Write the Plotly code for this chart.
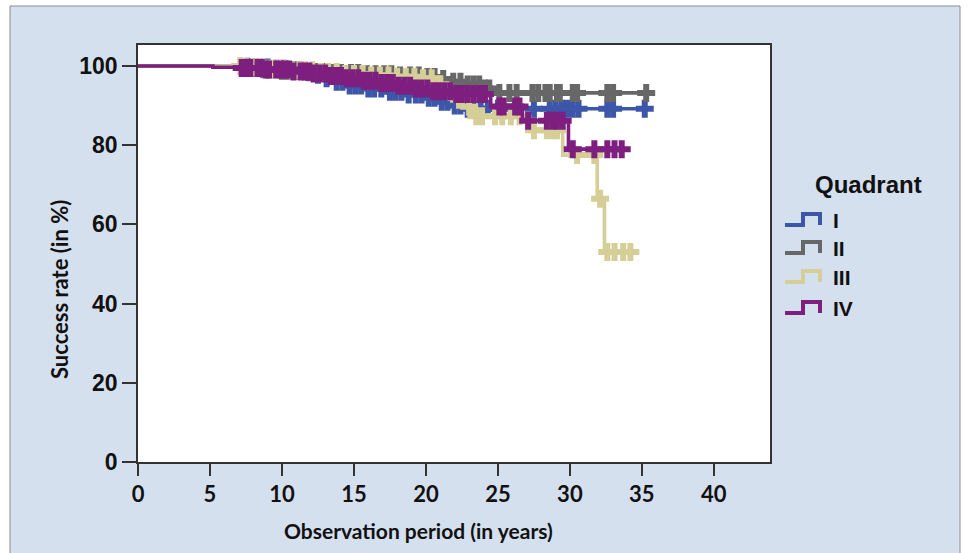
import numpy as np
import plotly.graph_objects as go

# ---------------- data ----------------
quadrants = ["I", "II", "III", "IV"]
colors = ["#3c56a9", "#676767", "#d5ce97", "#7e1f80"]

# Kaplan-Meier step curves: time of each step (years) and survival after it (%)
q1_times = [0, 5.5, 7.8, 9.2, 10.4, 11.3, 12.2, 12.9, 13.6, 14.5, 15.8, 17.2, 18.6, 19.8, 20.9, 21.8, 22.6]
q1_surv = [100, 99.8, 99.6, 99.3, 98.9, 98.4, 97.8, 96.9, 96.0, 95.1, 94.3, 93.5, 92.8, 92.0, 91.0, 90.0, 89.2]
q1_end = 35.2
q1_censor = [7.6, 8.1, 8.5, 9.0, 9.6, 10.1, 10.8, 11.2, 11.9, 12.5, 13.1, 13.8, 14.2, 14.7, 15.1, 15.5,
             16.0, 16.4, 16.9, 17.5, 17.9, 18.3, 18.8, 19.3, 19.7, 20.2, 20.6, 21.1, 21.5, 22.0, 22.4,
             22.9, 23.3, 23.8, 24.3, 25.0, 26.2, 27.5, 28.6, 29.0, 29.4, 29.8, 30.2, 30.6, 32.6, 33.0, 35.2]

q2_times = [0, 6.8, 8.3, 9.8, 11.5, 13.5, 15.5, 17.8, 19.6, 20.8, 21.7, 22.6, 24.0, 24.7]
q2_surv = [100, 99.6, 99.2, 98.8, 98.5, 98.2, 97.9, 97.6, 97.2, 96.7, 96.0, 95.3, 94.3, 93.2]
q2_end = 35.3
q2_censor = [7.3, 7.8, 8.2, 8.7, 9.1, 9.5, 10.0, 10.4, 10.9, 11.3, 11.8, 12.4, 13.0, 13.6, 14.1, 14.8,
             15.3, 15.9, 16.5, 17.1, 17.6, 18.2, 18.9, 19.5, 20.1, 20.6, 21.2, 21.9, 22.4, 22.9, 23.3,
             23.7, 24.1, 24.4, 25.1, 25.8, 26.3, 27.4, 27.8, 28.3, 28.6, 29.1, 29.3, 30.2, 30.5, 32.6,
             33.0, 35.3]

q3_times = [0, 7.2, 8.8, 10.5, 12.4, 14.3, 16.0, 17.8, 19.7, 20.8, 21.4, 22.0, 22.6, 23.3, 27.2, 29.5, 31.9, 32.4]
q3_surv = [100, 99.7, 99.3, 98.9, 98.5, 98.0, 97.6, 97.3, 96.9, 95.4, 93.5, 91.5, 89.7, 87.3, 83.8, 77.5, 66.5, 53.0]
q3_end = 34.2
q3_censor = [7.1, 7.5, 8.0, 8.4, 8.9, 9.3, 9.8, 10.3, 10.7, 11.2, 11.6, 12.1, 12.7, 13.2, 13.8, 14.4,
             15.0, 15.6, 16.2, 16.8, 17.4, 18.0, 18.6, 19.2, 19.8, 20.4, 21.0, 21.7, 22.3, 23.0, 23.5,
             23.9, 24.8, 25.3, 25.9, 26.5, 27.5, 28.4, 28.8, 29.1, 30.5, 31.7, 32.1, 32.6, 33.1, 33.7, 34.2]

q4_times = [0, 5.2, 7.0, 8.8, 10.6, 12.0, 13.3, 14.5, 15.7, 16.9, 18.0, 19.2, 20.5, 22.0, 24.5, 26.7, 29.9]
q4_surv = [100, 99.7, 99.5, 99.1, 98.6, 98.1, 97.5, 96.9, 96.3, 95.7, 95.0, 94.3, 93.6, 92.9, 89.8, 86.2, 79.0]
q4_end = 33.6
q4_censor = [7.2, 7.5, 7.8, 8.3, 8.6, 8.9, 9.1, 9.6, 9.9, 10.2, 10.5, 10.8, 11.3, 11.6, 11.9, 12.2,
             12.6, 13.0, 13.4, 13.7, 14.1, 14.5, 14.9, 15.3, 15.7, 16.1, 16.5, 16.9, 17.3, 17.7, 18.1,
             18.5, 18.9, 19.3, 19.7, 20.1, 20.5, 20.9, 21.3, 21.7, 22.1, 22.5, 22.9, 23.3, 23.7, 24.1,
             25.1, 25.4, 26.2, 26.5, 27.1, 28.4, 28.8, 29.1, 29.5, 30.2, 31.7, 32.6, 33.1, 33.6]

series = [
    (q1_times, q1_surv, q1_end, q1_censor),
    (q2_times, q2_surv, q2_end, q2_censor),
    (q3_times, q3_surv, q3_end, q3_censor),
    (q4_times, q4_surv, q4_end, q4_censor),
]

x_ticks = [0, 5, 10, 15, 20, 25, 30, 35, 40]
y_ticks = [0, 20, 40, 60, 80, 100]

# ---------------- layout geometry ----------------
W, H = 968, 553
L, R, T, B = 138, 770, 45, 462


def px(xp):
    return (xp - L) / (R - L)


def py(yp):
    return (B - yp) / (B - T)


fig = go.Figure()

for (times, surv, end, cens), col, name in zip(series, colors, quadrants):
    xs = list(times) + [end]
    ys = list(surv) + [surv[-1]]
    fig.add_trace(go.Scatter(x=xs, y=ys, mode="lines", line=dict(color=col, width=3.6, shape="hv"),
                             name=name, showlegend=False, hoverinfo="skip"))
    t_arr = np.array(times)
    s_arr = np.array(surv)
    c_arr = np.array(cens)
    idx = np.searchsorted(t_arr, c_arr, side="right") - 1
    fig.add_trace(go.Scatter(x=c_arr, y=s_arr[idx], mode="markers",
                             marker=dict(symbol="cross", size=15, color=col, line=dict(width=0)),
                             showlegend=False, hoverinfo="skip"))

shapes = []
# outer light-blue panel
shapes.append(dict(type="rect", xref="paper", yref="paper", x0=px(10), x1=px(960), y0=py(600), y1=py(6),
                   fillcolor="#d5e0ef", line=dict(color="#8c8c8c", width=1), layer="below"))
# white plotting area
shapes.append(dict(type="rect", xref="paper", yref="paper", x0=0, x1=1, y0=0, y1=1,
                   fillcolor="white", line=dict(width=0), layer="below"))

tick_font_x = dict(family="Lato, sans-serif", size=22, color="#111111", weight="bold")
tick_font_y = dict(family="Liberation Sans, Arial", size=23, color="#111111", weight="bold")

annotations = []
# legend
annotations.append(dict(text="<b>Quadrant</b>", xref="paper", yref="paper", x=px(868), y=py(184),
                        showarrow=False, xanchor="center", yanchor="middle",
                        font=dict(family="Liberation Sans, Arial", size=24, color="#111111")))
leg_y = [220, 248, 277, 308]
for name, col, yc in zip(quadrants, colors, leg_y):
    path = "M {} {} L {} {} L {} {} L {} {} L {} {}".format(
        px(785), py(yc + 5), px(803), py(yc + 5), px(803), py(yc - 6), px(820), py(yc - 6), px(820), py(yc + 5))
    shapes.append(dict(type="path", xref="paper", yref="paper", path=path,
                       line=dict(color=col, width=4)))
    annotations.append(dict(text="<b>" + name + "</b>", xref="paper", yref="paper", x=px(831), y=py(yc),
                            showarrow=False, xanchor="left", yanchor="middle",
                            font=dict(family="Liberation Sans, Arial", size=21, color="#111111")))

# axis titles
annotations.append(dict(text="<b>Observation period (in years)</b>", xref="paper", yref="paper",
                        x=px(418), y=py(530), showarrow=False, xanchor="center", yanchor="middle",
                        font=dict(family="Lato, sans-serif", size=21, color="#111111")))
annotations.append(dict(text="<b>Success rate (in %)</b>", xref="paper", yref="paper",
                        x=px(59), y=py(290), showarrow=False, xanchor="center", yanchor="middle",
                        textangle=-90,
                        font=dict(family="Lato, sans-serif", size=22, color="#111111")))

fig.update_layout(
    width=W, height=H,
    margin=dict(l=L, r=W - R, t=T, b=H - B, pad=0),
    paper_bgcolor="white", plot_bgcolor="rgba(0,0,0,0)",
    shapes=shapes, annotations=annotations,
    showlegend=False,
    xaxis=dict(range=[0, 43.9], tickvals=x_ticks, ticktext=[str(v) for v in x_ticks],
               ticks="outside", ticklen=12, tickwidth=1.5, tickcolor="#333333",
               showline=True, linecolor="#333333", linewidth=1.5, mirror=True,
               showgrid=False, zeroline=False, tickfont=tick_font_x),
    yaxis=dict(range=[0, 105.3], tickvals=y_ticks, ticktext=[str(v) for v in y_ticks],
               ticks="outside", ticklen=14, tickwidth=1.5, tickcolor="#333333",
               showline=True, linecolor="#333333", linewidth=1.5, mirror=True,
               showgrid=False, zeroline=False, tickfont=tick_font_y),
)

fig.write_html("out.html")
